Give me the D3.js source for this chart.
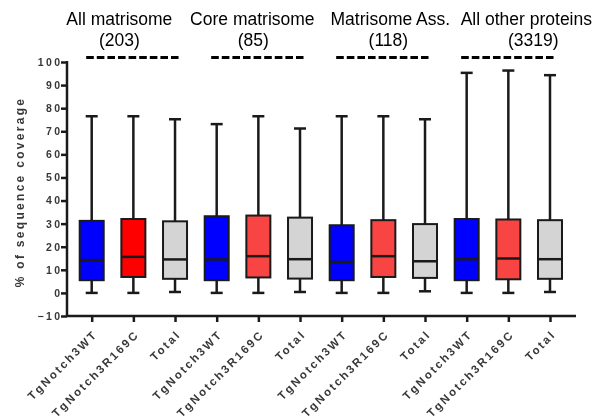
<!DOCTYPE html>
<html>
<head>
<meta charset="utf-8">
<script src="https://cdn.jsdelivr.net/npm/d3@7"></script>
<style>
  html, body { margin: 0; padding: 0; background: #fff; }
  svg { display: block; will-change: transform; }
  text { font-family: "Liberation Sans", Arial, sans-serif; }
</style>
</head>
<body>
<div id="chart"></div>
<script>
// ---- data ----
const groups = ["All matrisome", "Core matrisome", "Matrisome Ass.", "All other proteins"];
const groupCounts = ["(203)", "(85)", "(118)", "(3319)"];
const conditions = ["TgNotch3WT", "TgNotch3R169C", "Total"];
const minVals    = [0, 0, 0.4,   0, 0, 0.4,   0, 0, 0.7,   0, 0, 0.4];
const q1Vals     = [5.5, 6.9, 6.1,   5.5, 6.7, 6.2,   5.5, 6.9, 6.5,   5.5, 5.9, 6.1];
const medianVals = [14.2, 15.6, 14.5,   14.5, 15.9, 14.6,   13.4, 15.9, 13.7,   14.6, 14.9, 14.6];
const q3Vals     = [31.2, 32.0, 31.0,   33.2, 33.5, 32.6,   29.3, 31.5, 29.8,   32.0, 31.8, 31.5];
const maxVals    = [76.5, 76.5, 75.2,   73.1, 76.5, 71.2,   76.5, 76.5, 75.2,   95.3, 96.3, 94.3];
const yTicks = [-10, 0, 10, 20, 30, 40, 50, 60, 70, 80, 90, 100];
const yLabel = "% of sequence coverage";

// ---- layout ----
const W = 598, H = 419;
const svg = d3.select("#chart").append("svg").attr("width", W).attr("height", H);

const boxes = [];
groups.forEach((g, gi) => conditions.forEach((c, ci) => {
  const i = gi * conditions.length + ci;
  boxes.push({ i, gi, ci, label: c, min: minVals[i], q1: q1Vals[i], med: medianVals[i], q3: q3Vals[i], max: maxVals[i] });
}));

const x = d3.scalePoint().domain(boxes.map(d => d.i)).range([91.7, 550]);
const y = d3.scaleLinear().domain([-10, 100]).range([316, 62]);

function fillFor(d) {
  if (d.ci === 0) return "#0000ff";
  if (d.ci === 1) return d.gi === 0 ? "#ff0000" : "#f94444";
  return "#d4d4d4";
}

const ink = "#1a1a1a";
const labelInk = "#383838";

// y axis
const yAxis = svg.append("g").attr("transform", "translate(67,0)")
  .call(d3.axisLeft(y).tickValues(yTicks).tickSize(6).tickPadding(3).tickFormat(d3.format("d")));
yAxis.select(".domain").attr("stroke", ink).attr("stroke-width", 2.5)
  .attr("d", `M0,${y(100) - 1}V${y(-10)}`);
yAxis.selectAll(".tick line").attr("stroke", ink).attr("stroke-width", 2.5);
yAxis.selectAll(".tick text").attr("font-size", 10.5).attr("font-weight", "bold").attr("fill", labelInk)
  .style("letter-spacing", "2.4px").attr("x", -4.5)
  .attr("font-family", "'Liberation Sans', Arial, sans-serif");

// x axis
const xAxis = svg.append("g").attr("transform", `translate(0,${y(-10)})`)
  .call(d3.axisBottom(x).tickSize(6).tickFormat(i => boxes[i].label));
xAxis.select(".domain").attr("stroke", ink).attr("stroke-width", 2.5)
  .attr("d", `M67,0H576`);
xAxis.selectAll(".tick line").attr("stroke", ink).attr("stroke-width", 2.5);
xAxis.selectAll(".tick text")
  .attr("font-size", 11.5).attr("font-weight", "bold").attr("fill", labelInk)
  .attr("font-family", "'Liberation Sans', Arial, sans-serif")
  .style("letter-spacing", "2.2px")
  .attr("text-anchor", "end")
  .attr("y", 0).attr("dy", 0)
  .attr("transform", "translate(6,19) rotate(-45)");

// boxes
const bw = 24, capW = 12;
const bg = svg.append("g").selectAll("g").data(boxes).join("g");
bg.append("line")
  .attr("x1", d => x(d.i)).attr("x2", d => x(d.i))
  .attr("y1", d => y(d.max)).attr("y2", d => y(d.min))
  .attr("stroke", ink).attr("stroke-width", 2.5);
bg.append("line")
  .attr("x1", d => x(d.i) - capW / 2).attr("x2", d => x(d.i) + capW / 2)
  .attr("y1", d => y(d.max)).attr("y2", d => y(d.max))
  .attr("stroke", ink).attr("stroke-width", 2.5);
bg.append("line")
  .attr("x1", d => x(d.i) - capW / 2).attr("x2", d => x(d.i) + capW / 2)
  .attr("y1", d => y(d.min)).attr("y2", d => y(d.min))
  .attr("stroke", ink).attr("stroke-width", 2.5);
bg.append("rect")
  .attr("x", d => x(d.i) - bw / 2).attr("width", bw)
  .attr("y", d => y(d.q3)).attr("height", d => y(d.q1) - y(d.q3))
  .attr("fill", fillFor).attr("stroke", ink).attr("stroke-width", 2);
bg.append("line")
  .attr("x1", d => x(d.i) - bw / 2).attr("x2", d => x(d.i) + bw / 2)
  .attr("y1", d => y(d.med)).attr("y2", d => y(d.med))
  .attr("stroke", ink).attr("stroke-width", 2.5);

// group titles and dashed bars
const titleOffsets = [-14, -6, 7, 18];
const countOffsets = [-14, -5, 5, 25];
groups.forEach((g, gi) => {
  const xs = conditions.map((c, ci) => x(gi * conditions.length + ci));
  const xa = xs[0], xb = xs[xs.length - 1];
  const cx = (xa + xb) / 2;
  svg.append("text").attr("x", cx + titleOffsets[gi]).attr("y", 24.5)
    .attr("text-anchor", "middle").attr("font-size", 17.5).attr("fill", "#000").text(g);
  svg.append("text").attr("x", cx + countOffsets[gi]).attr("y", 45.5)
    .attr("text-anchor", "middle").attr("font-size", 17.5).attr("fill", "#000").text(groupCounts[gi]);
  svg.append("line").attr("x1", xa - 5.5).attr("x2", xb + 3.5)
    .attr("y1", 57.5).attr("y2", 57.5)
    .attr("stroke", "#000").attr("stroke-width", 3)
    .attr("stroke-dasharray", "7.6 3");
});

// y label
svg.append("text")
  .attr("transform", `translate(24,192) rotate(-90)`)
  .attr("text-anchor", "middle").attr("font-size", 12).attr("font-weight", "bold").attr("fill", labelInk)
  .style("letter-spacing", "2.3px")
  .text(yLabel);
</script>
</body>
</html>
